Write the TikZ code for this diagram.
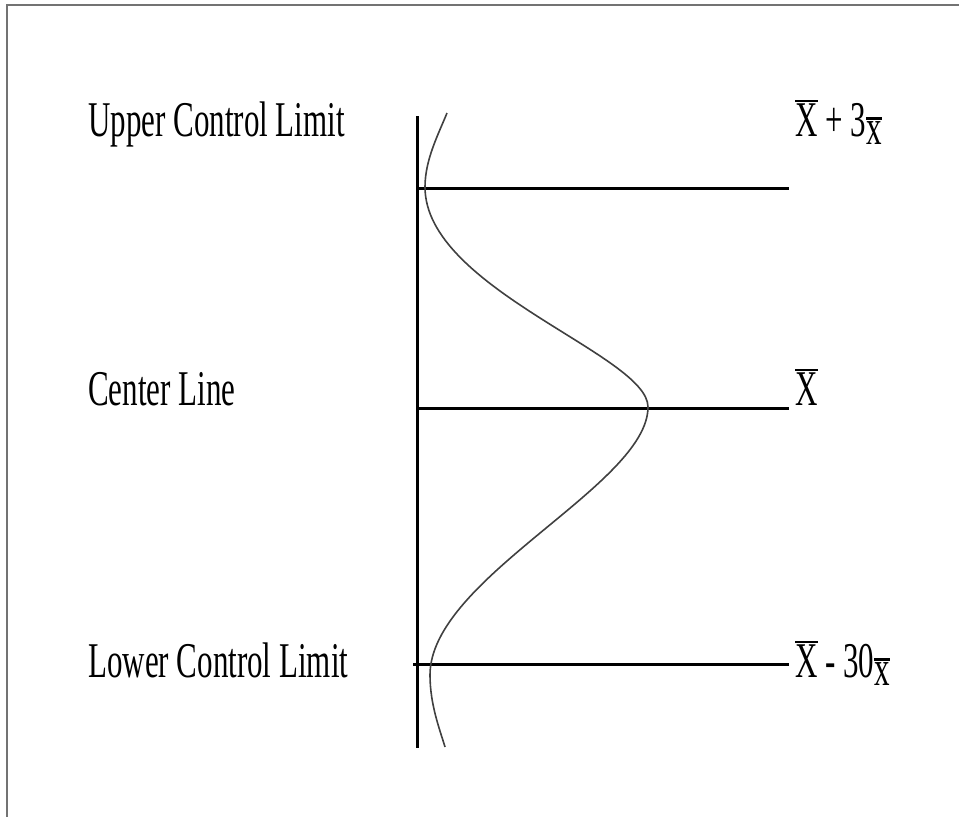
\documentclass[tikz,border=0pt]{standalone}
\usepackage{fontspec}
\newfontfamily\condserif[FakeStretch=0.62]{Liberation Serif}
\newcommand\obar[1]{\leavevmode\vbox{\hrule height 2.2pt\kern 1.5pt\hbox{#1}}}
\newcommand\subbar[1]{\raisebox{-8pt}{\obar{#1}}}
\tikzset{
  lbl/.style={inner sep=0pt, anchor=base west, font=\condserif\fontsize{50}{60}\selectfont},
  limline/.style={line width=3pt, black},
  bell/.style={line width=1.6pt, black!75},
  frameline/.style={line width=1.2pt, black!55}
}
\begin{document}
\begin{tikzpicture}[x=1pt,y=-1pt]
\useasboundingbox (0,0) rectangle (959,817);
% frame
\coordinate (ftr) at (959,5);
\coordinate (ftl) at (7,5);
\coordinate (fbl) at (7,817);
\draw[frameline] (ftr) -- (ftl) -- (fbl);
% axis
\coordinate (axtop) at (417,116);
\coordinate (axbot) at (417,748);
\draw[limline] (axtop) -- (axbot);
% limit lines
\coordinate (ul) at (417,188);
\coordinate (ur) at (789,188);
\coordinate (cl) at (417,408);
\coordinate (cr) at (789,408);
\coordinate (ll) at (413,664);
\coordinate (lr) at (789,664);
\draw[limline] (ul) -- (ur);
\draw[limline] (cl) -- (cr);
\draw[limline] (ll) -- (lr);
% bell curve
\coordinate (b0) at (447,113);
\coordinate (b1) at (425,187);
\coordinate (b2) at (648,407);
\coordinate (b3) at (430,675);
\coordinate (b4) at (445,747);
\draw[bell] (b0) .. controls (438,135) and (425,160) .. (b1)
  .. controls (425,289) and (648,355) .. (b2)
  .. controls (648,485) and (430,578) .. (b3)
  .. controls (430,705) and (440,730) .. (b4);
% left labels
\node[lbl] (ulabel) at (88,136) {Upper Control Limit};
\node[lbl] (clabel) at (88,405) {Center Line};
\node[lbl] (llabel) at (88,677) {Lower Control Limit};
% right labels
\node[lbl] (uval) at (795,136) {\obar{X} + 3\subbar{x}};
\node[lbl] (cval) at (795,405) {\obar{X}};
\node[lbl] (lval) at (795,677) {\obar{X} - 30\subbar{x}};
\end{tikzpicture}
\end{document}
